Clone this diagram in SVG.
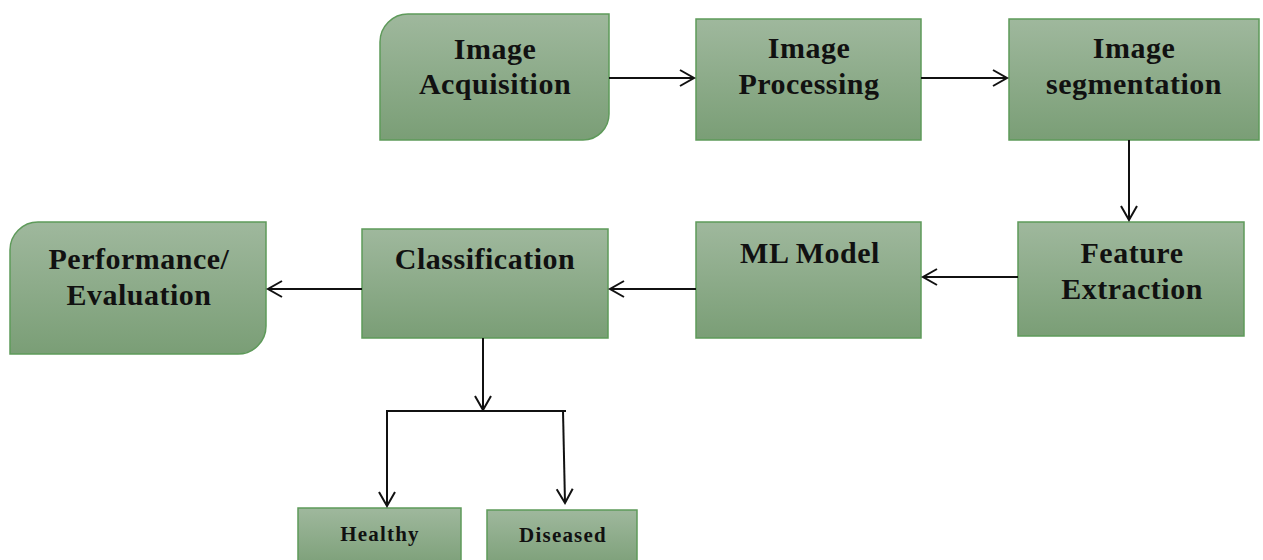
<svg xmlns="http://www.w3.org/2000/svg" width="1263" height="560" viewBox="0 0 1263 560">
<defs>
<linearGradient id="g" x1="0" y1="0" x2="0" y2="1">
<stop offset="0" stop-color="#9fb89d"/>
<stop offset="1" stop-color="#7a9e76"/>
</linearGradient>
<marker id="ah" markerUnits="userSpaceOnUse" markerWidth="20" markerHeight="20" refX="15" refY="9" orient="auto" viewBox="0 0 20 18">
<path d="M1,1 L15,9 L1,17" fill="none" stroke="#111" stroke-width="2"/>
</marker>
<style>
.box{fill:url(#g);stroke:#5e9a5a;stroke-width:1.5}
.t{font-family:"Liberation Serif","Times New Roman",serif;font-weight:bold;font-size:30px;letter-spacing:0.5px;fill:#111;text-anchor:middle}
.s{font-family:"Liberation Serif","Times New Roman",serif;font-weight:bold;font-size:21px;letter-spacing:1.2px;fill:#111;text-anchor:middle}
.c{fill:none;stroke:#111;stroke-width:2}
</style>
</defs>
<rect width="1263" height="560" fill="#fff"/>
<g id="acq">
<path class="box" d="M408,14 H609 V114 A26,26 0 0 1 583,140 H380 V42 A28,28 0 0 1 408,14 Z"/>
<text class="t" x="495" y="59">Image</text>
<text class="t" x="495" y="94">Acquisition</text>
</g>
<g id="proc">
<rect class="box" x="696" y="19" width="225" height="121"/>
<text class="t" x="809" y="58">Image</text>
<text class="t" x="809" y="94">Processing</text>
</g>
<g id="seg">
<rect class="box" x="1009" y="19" width="250" height="121"/>
<text class="t" x="1134" y="58">Image</text>
<text class="t" x="1134" y="94">segmentation</text>
</g>
<g id="feat">
<rect class="box" x="1018" y="222" width="226" height="114"/>
<text class="t" x="1132" y="263">Feature</text>
<text class="t" x="1132" y="299">Extraction</text>
</g>
<g id="ml">
<rect class="box" x="696" y="222" width="225" height="116"/>
<text class="t" x="810" y="263">ML Model</text>
</g>
<g id="cls">
<rect class="box" x="362" y="229" width="246" height="109"/>
<text class="t" x="485" y="269">Classification</text>
</g>
<g id="perf">
<path class="box" d="M38,222 H266 V326 A28,28 0 0 1 238,354 H10 V250 A28,28 0 0 1 38,222 Z"/>
<text class="t" x="139" y="269">Performance/</text>
<text class="t" x="139" y="305">Evaluation</text>
</g>
<g id="healthy">
<rect class="box" x="298" y="508" width="163" height="62"/>
<text class="s" x="380" y="541">Healthy</text>
</g>
<g id="diseased">
<rect class="box" x="487" y="510" width="150" height="60"/>
<text class="s" x="563" y="542">Diseased</text>
</g>
<g id="connectors">
<line class="c" x1="609" y1="78" x2="694" y2="78" marker-end="url(#ah)"/>
<line class="c" x1="921" y1="78" x2="1007" y2="78" marker-end="url(#ah)"/>
<line class="c" x1="1129" y1="140" x2="1129" y2="220" marker-end="url(#ah)"/>
<line class="c" x1="1018" y1="277" x2="923" y2="277" marker-end="url(#ah)"/>
<line class="c" x1="696" y1="289" x2="610" y2="289" marker-end="url(#ah)"/>
<line class="c" x1="362" y1="289" x2="268" y2="289" marker-end="url(#ah)"/>
<line class="c" x1="483" y1="338" x2="483" y2="410" marker-end="url(#ah)"/>
<line class="c" x1="386" y1="411" x2="566" y2="411"/>
<line class="c" x1="387" y1="411" x2="387" y2="506" marker-end="url(#ah)"/>
<line class="c" x1="563" y1="411" x2="565" y2="503" marker-end="url(#ah)"/>
</g>
</svg>
